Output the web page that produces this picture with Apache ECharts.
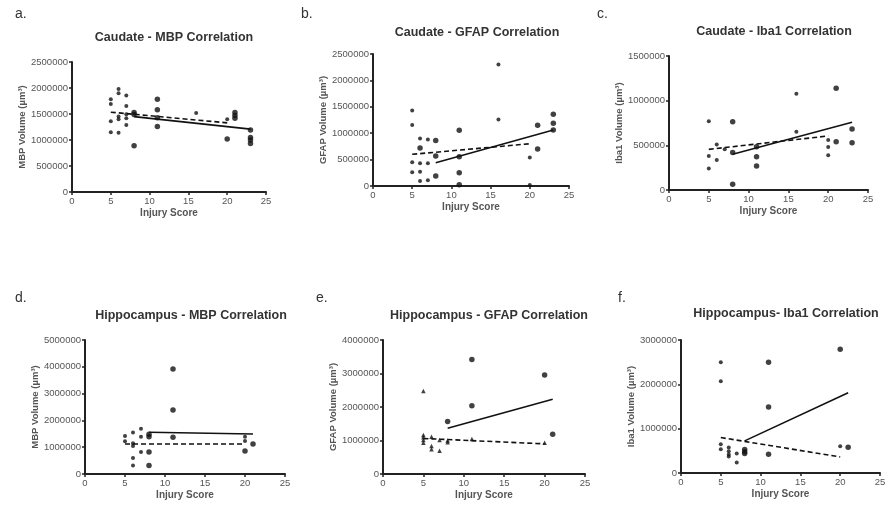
<!DOCTYPE html>
<html>
<head>
<meta charset="utf-8">
<script src="https://cdn.jsdelivr.net/npm/echarts@6/dist/echarts.min.js"></script>
<style>
  html, body { margin: 0; padding: 0; background: #fff; }
  #main { width: 889px; height: 506px; }
</style>
</head>
<body>
<div id="main"></div>
<script>
// data: [injury score, volume]
var aSmall = [[5,1785000],[5,1690000],[5,1360000],[5,1150000],[6,1980000],[6,1900000],[6,1450000],[6,1400000],[6,1140000],
  [7,1855000],[7,1655000],[7,1495000],[7,1420000],[7,1290000],[16,1520000],[20,1400000]];
var aLarge = [[8,1530000],[8,1490000],[8,890000],[11,1785000],[11,1580000],[11,1430000],[11,1260000],[20,1020000],
  [21,1530000],[21,1470000],[21,1420000],[23,1190000],[23,1050000],[23,1000000],[23,935000]];
var aSolid = [[8,1450000],[23,1210000]];
var aDashed = [[5,1535000],[20,1330000]];

var bSmall = [[5,1430000],[5,1155000],[5,450000],[5,260000],[6,900000],[6,430000],[6,270000],[6,95000],
  [7,880000],[7,430000],[7,110000],[16,2300000],[16,1260000],[20,540000],[20,20000]];
var bLarge = [[6,720000],[8,860000],[8,570000],[8,190000],[11,1055000],[11,555000],[11,250000],[11,25000],
  [21,1150000],[21,700000],[23,1360000],[23,1190000],[23,1060000]];
var bSolid = [[8,440000],[23,1060000]];
var bDashed = [[5,600000],[20,800000]];

var cSmall = [[5,770000],[5,380000],[5,240000],[6,510000],[6,336000],[7,455000],[16,1078000],[16,653000],
  [20,560000],[20,480000],[20,390000]];
var cLarge = [[8,765000],[8,420000],[8,64000],[11,485000],[11,373000],[11,270000],[21,1138000],[21,540000],
  [23,683000],[23,530000]];
var cSolid = [[8,400000],[23,758000]];
var cDashed = [[5,455000],[20,605000]];

var dSmall = [[5,1420000],[5,1220000],[6,1550000],[6,1150000],[6,1045000],[6,600000],[6,320000],
  [7,1690000],[7,1390000],[7,820000],[20,1390000],[20,1230000]];
var dLarge = [[8,1480000],[8,1390000],[8,820000],[8,320000],[11,3920000],[11,2390000],[11,1370000],[20,860000],[21,1120000]];
var dSolid = [[8,1556000],[21,1490000]];
var dDashed = [[5,1120000],[20,1120000]];

var eSmall = [[5,2480000],[5,1165000],[5,1100000],[5,1015000],[5,935000],[6,1110000],[6,835000],[6,736000],
  [7,1015000],[7,696000],[8,1000000],[8,950000],[11,1045000],[20,935000]];
var eLarge = [[8,1570000],[11,3420000],[11,2040000],[20,2955000],[21,1190000]];
var eSolid = [[8,1364000],[21,2230000]];
var eDashed = [[5,1060000],[20,900000]];

var fSmall = [[5,2500000],[5,2070000],[5,650000],[5,536000],[6,574000],[6,490000],[6,416000],[6,370000],
  [7,440000],[7,235000],[20,603000]];
var fLarge = [[8,530000],[8,480000],[8,440000],[11,2500000],[11,1486000],[11,423000],[20,2790000],[21,580000]];
var fSolid = [[8,725000],[21,1810000]];
var fDashed = [[5,800000],[20,362000]];

var labels = ['a.', 'b.', 'c.', 'd.', 'e.', 'f.'];
var titles = ['Caudate - MBP Correlation', 'Caudate - GFAP Correlation', 'Caudate - Iba1 Correlation',
  'Hippocampus - MBP Correlation', 'Hippocampus - GFAP Correlation', 'Hippocampus- Iba1 Correlation'];
var yNames = ['MBP Volume (µm³)', 'GFAP Volume (µm³)', 'Iba1 Volume (µm³)',
  'MBP Volume (µm³)', 'GFAP Volume (µm³)', 'Iba1 Volume (µm³)'];
var yMax = [2500000, 2500000, 1500000, 5000000, 4000000, 3000000];
var yStep = [500000, 500000, 500000, 1000000, 1000000, 1000000];

var smallSets = [aSmall, bSmall, cSmall, dSmall, eSmall, fSmall];
var largeSets = [aLarge, bLarge, cLarge, dLarge, eLarge, fLarge];
var solidSets = [aSolid, bSolid, cSolid, dSolid, eSolid, fSolid];
var dashedSets = [aDashed, bDashed, cDashed, dDashed, eDashed, fDashed];

// layout (pixels)
var grids = [
  {left: 72, top: 62, width: 194, height: 130},
  {left: 373, top: 54, width: 196, height: 132},
  {left: 669, top: 56, width: 199, height: 134},
  {left: 85, top: 340, width: 200, height: 134},
  {left: 383, top: 340, width: 202, height: 134},
  {left: 681, top: 340, width: 199, height: 133}
];
var titlePos = [[169, 26], [472, 21], [769, 20], [186, 304], [484, 304], [781, 302]];
var labelPos = [[10, 2], [296, 2], [592, 2], [10, 286], [311, 286], [613, 286]];

var myChart = echarts.init(document.getElementById('main'));

var font = 'Liberation Sans, Arial, sans-serif';
var option = {
  backgroundColor: '#fff',
  animation: false,
  title: [],
  grid: [],
  xAxis: [],
  yAxis: [],
  series: []
};

for (var i = 0; i < 6; i++) {
  option.title.push({
    text: titles[i], left: titlePos[i][0], top: titlePos[i][1], textAlign: 'center',
    textStyle: {fontFamily: font, fontSize: 12.5, fontWeight: 'bold', color: '#333'}
  });
  option.title.push({
    text: labels[i], left: labelPos[i][0], top: labelPos[i][1],
    textStyle: {fontFamily: font, fontSize: 14, fontWeight: 'normal', color: '#333'}
  });
  option.grid.push(grids[i]);
  option.xAxis.push({
    type: 'value', gridIndex: i, min: 0, max: 25, interval: 5,
    name: 'Injury Score', nameLocation: 'middle', nameGap: 16,
    nameTextStyle: {fontFamily: font, fontSize: 10, fontWeight: 'bold', color: '#555'},
    splitLine: {show: false},
    axisLine: {onZero: false, lineStyle: {color: '#222', width: 2}},
    axisTick: {length: 3, lineStyle: {color: '#222', width: 1.5}},
    axisLabel: {fontFamily: font, fontSize: 9.5, color: '#555', margin: 4}
  });
  option.yAxis.push({
    type: 'value', gridIndex: i, min: 0, max: yMax[i], interval: yStep[i],
    name: yNames[i], nameLocation: 'middle', nameGap: 42,
    nameTextStyle: {fontFamily: font, fontSize: 9.5, fontWeight: 'bold', color: '#555'},
    splitLine: {show: false},
    axisLine: {show: true, onZero: false, lineStyle: {color: '#222', width: 2}},
    axisTick: {show: true, length: 3, lineStyle: {color: '#222', width: 1.5}},
    axisLabel: {fontFamily: font, fontSize: 9.5, color: '#555', margin: 4,
      formatter: function (v) { return String(v); }}
  });
  option.series.push({
    type: 'scatter', xAxisIndex: i, yAxisIndex: i, data: smallSets[i],
    symbol: i === 4 ? 'triangle' : 'circle', symbolSize: i === 4 ? 4.5 : 4,
    itemStyle: {color: '#111'}
  });
  option.series.push({
    type: 'scatter', xAxisIndex: i, yAxisIndex: i, data: largeSets[i],
    symbol: 'circle', symbolSize: 5.5,
    itemStyle: {color: '#111'}
  });
  option.series.push({
    type: 'line', xAxisIndex: i, yAxisIndex: i, data: solidSets[i],
    symbol: 'none', lineStyle: {color: '#111', width: 1.6}
  });
  option.series.push({
    type: 'line', xAxisIndex: i, yAxisIndex: i, data: dashedSets[i],
    symbol: 'none', lineStyle: {color: '#111', width: 1.6, type: [5, 3]}
  });
}

myChart.setOption(option);
</script>
</body>
</html>
